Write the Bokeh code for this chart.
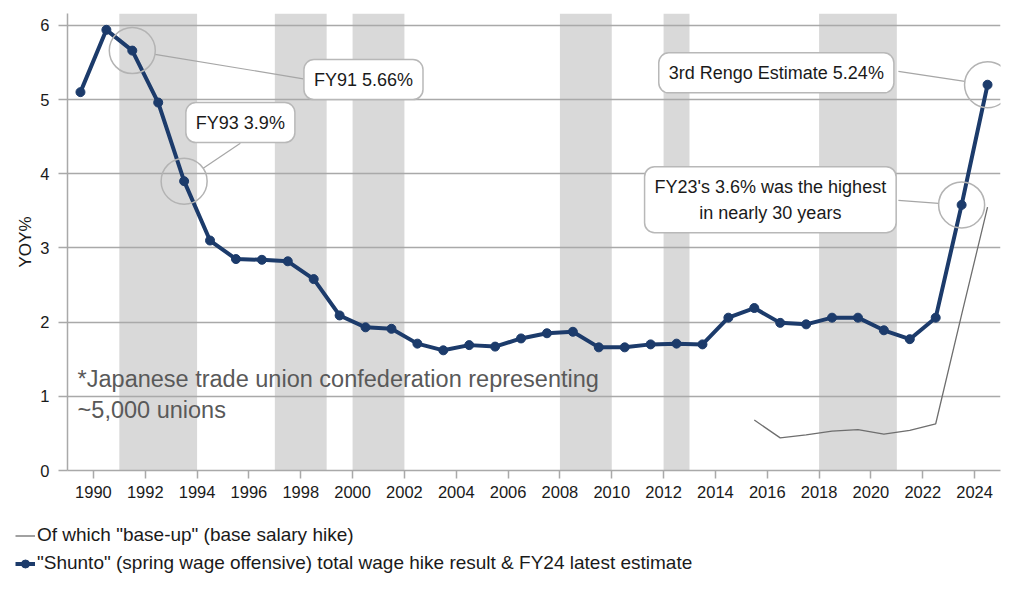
import math
from bokeh.plotting import figure
from bokeh.layouts import column
from bokeh.models import Range1d, Label, Legend, LegendItem, FixedTicker
from bokeh.embed import file_html
from bokeh.resources import INLINE

# ---------------- data ----------------
fiscal_years = list(range(1989, 2025))
shunto_total = [5.10, 5.94, 5.66, 4.96, 3.90, 3.10, 2.85, 2.84, 2.82, 2.58,
                2.09, 1.93, 1.91, 1.71, 1.62, 1.69, 1.67, 1.78, 1.85, 1.87,
                1.66, 1.66, 1.70, 1.71, 1.70, 2.06, 2.19, 1.99, 1.97, 2.06,
                2.06, 1.89, 1.77, 2.06, 3.58, 5.20]
baseup_years = list(range(2015, 2025))
baseup = [0.68, 0.44, 0.48, 0.53, 0.55, 0.49, 0.54, 0.63, 2.10, 3.55]
band_start = [1991, 1997, 2000, 2008, 2012, 2018]
band_end = [1994, 1999, 2002, 2010, 2013, 2021]
x_ticks = list(range(1990, 2025, 2))
y_ticks = [0, 1, 2, 3, 4, 5, 6]
callout_years = [1991, 1993, 2024, 2023]
callout_texts = ["FY91 5.66%", "FY93 3.9%", "3rd Rengo Estimate 5.24%",
                 "FY23's 3.6% was the highest\nin nearly 30 years"]
legend_labels = ['Of which "base-up" (base salary hike)',
                 '"Shunto" (spring wage offensive) total wage hike result & FY24 latest estimate']
note_text = "*Japanese trade union confederation representing\n~5,000 unions"

# ---------------- layout / style ----------------
W = 1022
H1, H2 = 515, 82
X0, X1 = 1989, 2025
Y0, Y1 = 0, 6.16
ML, MR, MT, MB = 67, 22, 13, 45
FW, FH = W - ML - MR, H1 - MT - MB
pxx = FW / (X1 - X0)
pxy = FH / (Y1 - Y0)

NAVY = "#1c3b6b"
GRID = "#a9a9a9"
BASE = "#6e6e6e"
FONT = "Liberation Sans"

p = figure(width=W, height=H1, output_backend="svg", toolbar_location=None,
           x_range=Range1d(X0, X1), y_range=Range1d(Y0, Y1),
           min_border_left=ML, min_border_right=MR, min_border_top=MT,
           min_border_bottom=MB)
p.outline_line_color = None
p.background_fill_color = "white"

# recession bands
p.quad(left=band_start, right=band_end, bottom=Y0, top=Y1,
       fill_color="#d9d9d9", line_color=None, level="image")

# grid
p.xgrid.visible = False
p.ygrid.ticker = FixedTicker(ticks=y_ticks[1:])
p.ygrid.grid_line_color = GRID
p.ygrid.grid_line_width = 1.5

# axes
for ax in (p.xaxis[0], p.yaxis[0]):
    ax.axis_line_color = GRID
    ax.axis_line_width = 1.5
    ax.major_tick_line_color = GRID
    ax.major_tick_line_width = 1.5
    ax.major_tick_in = 0
    ax.minor_tick_line_color = None
    ax.major_label_text_font = FONT
    ax.major_label_text_font_size = "16.5px"
    ax.major_label_text_color = "#1a1a1a"
p.xaxis.ticker = FixedTicker(ticks=x_ticks)
p.xaxis.major_tick_out = 8
p.xaxis.major_label_standoff = 7
p.yaxis.ticker = FixedTicker(ticks=y_ticks)
p.yaxis.major_tick_out = 9
p.yaxis.major_label_standoff = 9
p.yaxis.axis_label = "YOY%"
p.yaxis.axis_label_text_font = FONT
p.yaxis.axis_label_text_font_size = "17px"
p.yaxis.axis_label_text_font_style = "normal"
p.yaxis.axis_label_text_color = "#1a1a1a"
p.yaxis.axis_label_standoff = 2

# series
xs = [y + 0.5 for y in fiscal_years]
bx = [y + 0.5 for y in baseup_years]
p.line(bx, baseup, line_color=BASE, line_width=1.3)
p.line(xs, shunto_total, line_color=NAVY, line_width=4)
p.scatter(xs, shunto_total, size=9, marker="circle",
          fill_color=NAVY, line_color=NAVY)

# callouts
box_pos = [(2000.42, 5.27), (1995.67, 4.69), (2016.35, 5.36), (2016.12, 3.65)]
box_anchor = [(1998.10, 5.28), (1995.67, 4.41), (2021.06, 5.38), (2021.06, 3.64)]
R = 23
cx, cy, sx0, sy0, sx1, sy1 = [], [], [], [], [], []
for fy, (ax_, ay_) in zip(callout_years, box_anchor):
    px = fy + 0.5
    py = shunto_total[fiscal_years.index(fy)]
    cx.append(px)
    cy.append(py)
    dx = (ax_ - px) * pxx
    dy = (ay_ - py) * pxy
    d = math.hypot(dx, dy)
    sx0.append(px + dx / d * R / pxx)
    sy0.append(py + dy / d * R / pxy)
    sx1.append(ax_)
    sy1.append(ay_)
p.segment(sx0, sy0, sx1, sy1, line_color="#a6a6a6", line_width=1.2)
p.scatter(cx, cy, size=2 * R, marker="circle", fill_color=None,
          line_color="#b3b3b3", line_width=1.5)
for (bxp, byp), txt in zip(box_pos, callout_texts):
    p.add_layout(Label(x=bxp, y=byp, text=txt, text_align="center",
                       text_baseline="middle", text_font=FONT,
                       text_font_size="18px", text_color="#1a1a1a",
                       text_line_height=1.3,
                       background_fill_color="white",
                       border_line_color="#b8b8b8", border_line_width=1.5,
                       border_radius=10, padding=10))

# note
p.add_layout(Label(x=1989.39, y=1.02, text=note_text, text_align="left",
                   text_baseline="middle", text_font=FONT,
                   text_font_size="23.5px", text_color="#595959",
                   text_line_height=1.2))

# ---------------- legend strip below ----------------
p2 = figure(width=W, height=H2, output_backend="svg", toolbar_location=None,
            x_range=Range1d(0, 1), y_range=Range1d(0, 1),
            x_axis_location=None, y_axis_location=None,
            min_border_left=0, min_border_right=0, min_border_top=0,
            min_border_bottom=0)
p2.outline_line_color = None
p2.xgrid.visible = False
p2.ygrid.visible = False
for fig in (p, p2):
    if "frame_align" in fig.properties():
        fig.frame_align = False
# legend proxies (kept outside the visible range of the strip)
lb = p2.line([-3, -2], [-3, -3], line_color=BASE, line_width=1.3)
ll = p2.line([-3, -2], [-3, -3], line_color=NAVY, line_width=4)
lp = p2.scatter([-3], [-3], size=9, marker="circle", fill_color=NAVY, line_color=NAVY)
legend = Legend(items=[LegendItem(label=legend_labels[0], renderers=[lb]),
                       LegendItem(label=legend_labels[1], renderers=[ll, lp])],
                location=(15, 23), orientation="vertical", padding=0,
                margin=0, spacing=6, glyph_width=20, glyph_height=21,
                label_height=21, label_standoff=2, label_text_font=FONT,
                label_text_font_size="19px", label_text_color="#1a1a1a",
                background_fill_alpha=0, border_line_color=None)
p2.add_layout(legend)

open("out.html", "w").write(file_html(column(p, p2, spacing=0), INLINE))
